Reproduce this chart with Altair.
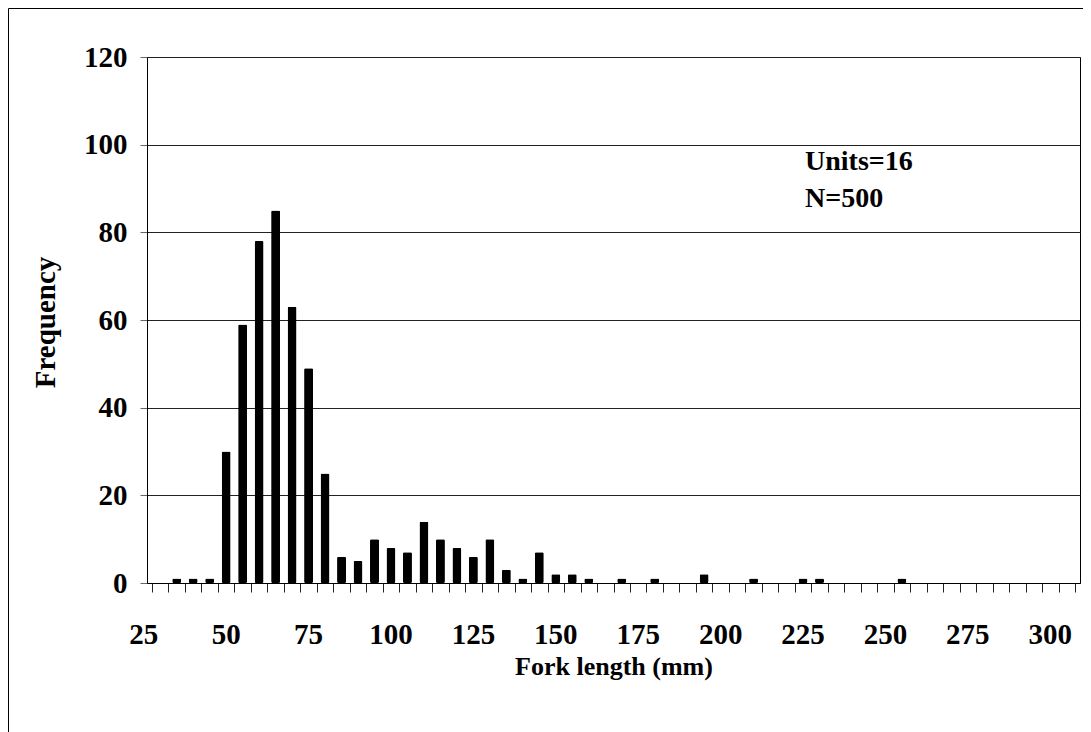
import altair as alt
import pandas as pd

# Fork length classes (mm) and frequencies
lengths = [35, 40, 45, 50, 55, 60, 65, 70, 75, 80, 85, 90, 95, 100, 105, 110,
           115, 120, 125, 130, 135, 140, 145, 150, 155, 160, 170, 180, 195,
           210, 225, 230, 255]
freqs = [1, 1, 1, 30, 59, 78, 85, 63, 49, 25, 6, 5, 10, 8, 7, 14,
         10, 8, 6, 10, 3, 1, 7, 2, 2, 1, 1, 1, 2,
         1, 1, 1, 1]
x_labels = [25, 50, 75, 100, 125, 150, 175, 200, 225, 250, 275, 300]
x_ticks = [27.5 + 5 * i for i in range(57)]
y_ticks = [0, 20, 40, 60, 80, 100, 120]
notes = "Units=16\nN=500"

FONT = "Liberation Serif"
W, H = 933, 526

bars_df = pd.DataFrame({"len": lengths, "freq": freqs})
lab_df = pd.DataFrame({"lab": x_labels})

xscale = alt.Scale(domain=[27.5, 307.5], nice=False, zero=False)
yscale = alt.Scale(domain=[0, 120], nice=False)

xaxis = alt.Axis(values=x_ticks, labels=False, tickSize=9, tickColor="#222",
                 domainColor="black", grid=False,
                 title="Fork length (mm)", titleFont=FONT, titleFontSize=26,
                 titleFontWeight="bold", titleColor="black",
                 titleBaseline="alphabetic", titleY=91)

bars = alt.Chart(bars_df).mark_bar(size=9, color="black", cornerRadius=1.5).encode(
    x=alt.X("len:Q", scale=xscale, axis=xaxis),
    y=alt.Y("freq:Q", scale=yscale,
            axis=alt.Axis(values=y_ticks, grid=True, gridColor="#222", gridWidth=1,
                          domainColor="black", tickSize=7, tickColor="#666",
                          labelFont=FONT, labelFontSize=29, labelFontWeight="bold",
                          labelColor="black", labelPadding=13,
                          title="Frequency", titleFont=FONT, titleFontSize=29,
                          titleFontWeight="bold", titleColor="black",
                          titleAngle=270, titleBaseline="alphabetic",
                          titleX=-93, titleY=265)),
)

xlabels = alt.Chart(lab_df).mark_text(
    font=FONT, fontSize=29, fontWeight="bold", color="black",
    align="center", baseline="alphabetic", clip=False,
).encode(
    x=alt.X("lab:Q", scale=xscale, axis=xaxis),
    y=alt.value(H + 61),
    text=alt.Text("lab:Q"),
)

note = alt.Chart(pd.DataFrame({"t": [notes]})).mark_text(
    font=FONT, fontSize=28, fontWeight="bold", color="black",
    align="left", baseline="alphabetic", lineBreak="\n", lineHeight=37,
).encode(
    x=alt.value(658),
    y=alt.value(113),
    text="t:N",
)

border = alt.Chart(pd.DataFrame({"t": [0]})).mark_rect(
    fill=None, stroke="black", strokeWidth=1, clip=False,
).encode(
    x=alt.value(-138.5), y=alt.value(-48.5),
    x2=alt.value(3000), y2=alt.value(3000),
)

chart = alt.layer(border, bars, xlabels, note).properties(
    width=W, height=H,
    autosize=alt.AutoSizeParams(type="none"),
    padding={"left": 139, "top": 49, "right": 3, "bottom": 150},
    background="white",
).configure_view(stroke="black", strokeWidth=1)

chart.save("out.html", embed_options={"renderer": "svg", "actions": False})
